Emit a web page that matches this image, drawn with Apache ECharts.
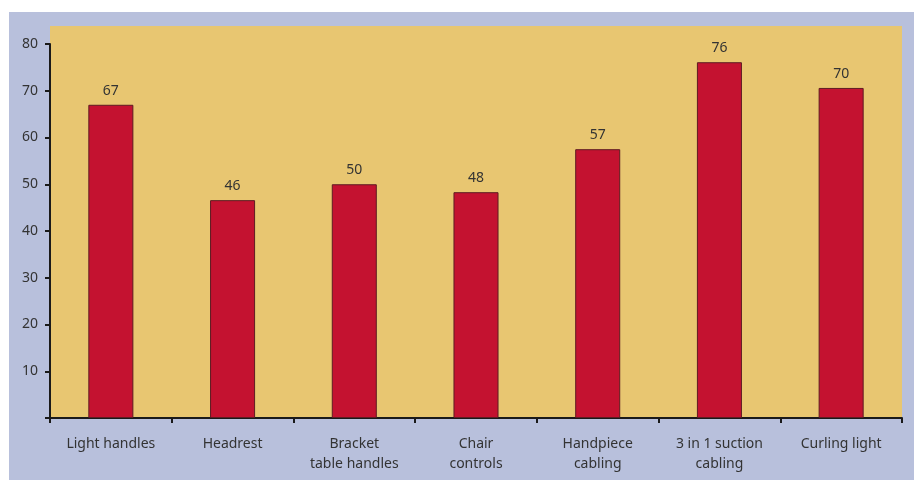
<!DOCTYPE html>
<html>
<head>
<meta charset="utf-8">
<script src="https://cdn.jsdelivr.net/npm/echarts@6/dist/echarts.min.js"></script>
<style>html,body{margin:0;padding:0;background:#fff}#c{width:918px;height:480px}</style>
</head>
<body>
<div id="c"></div>
<script>
var categories = ['Light handles', 'Headrest', 'Bracket\ntable handles', 'Chair\ncontrols', 'Handpiece\ncabling', '3 in 1 suction\ncabling', 'Curling light'];
var values = [67, 46.6, 50, 48.3, 57.5, 76.1, 70.6];
var valueLabels = ['67', '46', '50', '48', '57', '76', '70'];
var yTicks = [0, 10, 20, 30, 40, 50, 60, 70, 80];

var chart = echarts.init(document.getElementById('c'), null, {renderer: 'canvas'});
var font = '"Noto Sans", "Open Sans", sans-serif';
var txt = '#333333';
chart.setOption({
  animation: false,
  backgroundColor: '#ffffff',
  graphic: [
    {type: 'rect', z: -10, shape: {x: 9, y: 12, width: 905, height: 468}, style: {fill: '#b8c0dc'}},
    {type: 'rect', z: -9, shape: {x: 50, y: 26, width: 852, height: 392}, style: {fill: '#e8c671'}}
  ],
  grid: {left: 50, right: 16, top: 44, bottom: 62, containLabel: false},
  xAxis: {
    type: 'category',
    data: categories,
    axisLine: {lineStyle: {color: '#1a1a1a', width: 2}},
    axisTick: {show: true, alignWithLabel: false, length: 5, lineStyle: {color: '#1a1a1a', width: 2}},
    axisLabel: {color: txt, fontFamily: font, fontSize: 14, margin: 16, lineHeight: 20, interval: 0}
  },
  yAxis: {
    type: 'value',
    min: yTicks[0],
    max: yTicks[yTicks.length - 1],
    interval: 10,
    splitLine: {show: false},
    axisLine: {show: true, lineStyle: {color: '#1a1a1a', width: 2}},
    axisTick: {show: true, length: 5, lineStyle: {color: '#1a1a1a', width: 2}},
    axisLabel: {color: txt, fontFamily: font, fontSize: 14, margin: 12,
      formatter: function (v) { return v === 0 ? '' : String(v); }}
  },
  series: [{
    type: 'bar',
    data: values,
    barWidth: '37%',
    itemStyle: {color: '#c41230', borderColor: '#5e1b22', borderWidth: 1},
    label: {
      show: true, position: 'top', distance: 7, color: txt, fontFamily: font, fontSize: 14,
      formatter: function (p) { return valueLabels[p.dataIndex]; }
    }
  }]
});
</script>
</body>
</html>
